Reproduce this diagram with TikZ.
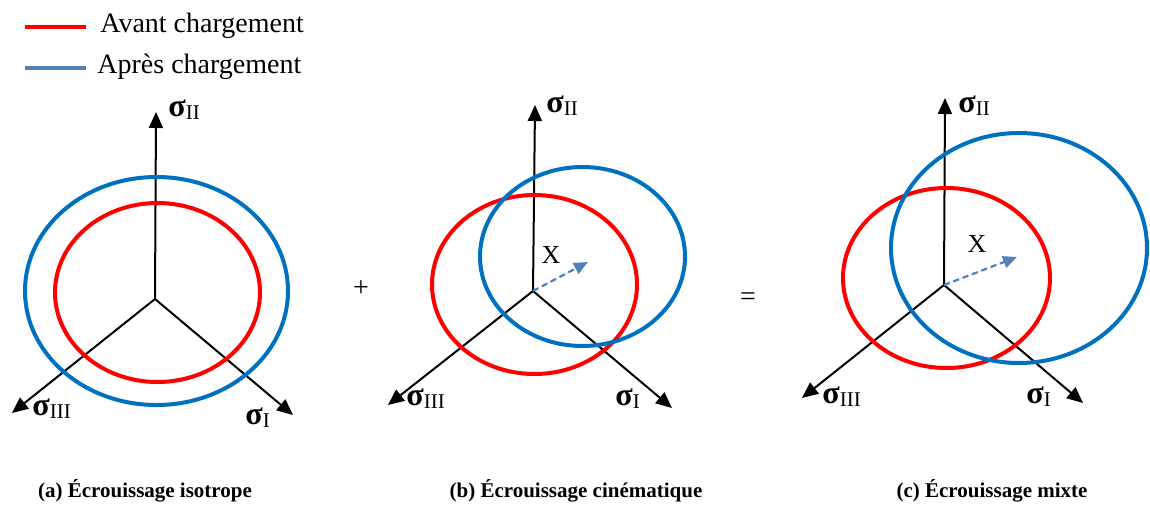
\documentclass[tikz,border=0pt]{standalone}
\usepackage{fontspec}
\setmainfont{Liberation Serif}
\usetikzlibrary{arrows.meta,positioning}
\definecolor{avant}{HTML}{FF0000}
\definecolor{apres}{HTML}{0070C0}
\definecolor{legblue}{HTML}{4F81BD}
\tikzset{
  axe/.style={line width=1pt,-{Triangle[length=8pt,width=7pt]}},
  surfav/.style={draw=avant,line width=2pt},
  surfap/.style={draw=apres,line width=2pt},
  depl/.style={draw=legblue,line width=1.1pt,dash pattern=on 3pt off 2pt,-{Triangle[length=7pt,width=6pt]},fill=legblue},
  sig/.style={anchor=base west,inner sep=0pt,font=\fontsize{16}{18}\selectfont},
  legtxt/.style={anchor=base west,inner sep=0pt,font=\fontsize{14}{16}\selectfont},
  capt/.style={anchor=base,inner sep=0pt,font=\fontsize{10.5}{12}\selectfont\bfseries},
  op/.style={inner sep=0pt,font=\fontsize{14}{16}\selectfont},
  xlab/.style={inner sep=0pt,font=\fontsize{13}{15}\selectfont},
}
\newcommand{\sigsub}[1]{{\bfseries σ}\raisebox{-0.1em}{\fontsize{10.5}{12}\selectfont #1}}

\begin{document}
\begin{tikzpicture}[x=0.5pt,y=-0.5pt]
\useasboundingbox (0,0) rectangle (1150,504);

% legend
\coordinate (lr1) at (25,27); \coordinate (lr2) at (86,27);
\coordinate (lb1) at (25,68); \coordinate (lb2) at (86,68);
\draw[avant,line width=2pt] (lr1) -- (lr2);
\draw[legblue,line width=2pt] (lb1) -- (lb2);
\node[legtxt] (lavant) at (100,32) {Avant chargement};
\node[legtxt] (lapres) at (97,73) {Après chargement};

% (a) isotrope
\coordinate (Oa) at (155,299);
\coordinate (Ia) at (293,415); \coordinate (IIa) at (156,112); \coordinate (IIIa) at (12,413);
\draw[axe] (Oa) -- (IIa);
\draw[axe] (Oa) -- (Ia);
\draw[axe] (Oa) -- (IIIa);
\draw[surfap] (156.5,291) ellipse [x radius=131.5,y radius=114];
\draw[surfav] (157.5,292.5) ellipse [x radius=102.5,y radius=89.5];
\node[sig] (sIIa) at (168,116) {\sigsub{II}};
\node[sig] (sIIIa) at (32,415) {\sigsub{III}};
\node[sig] (sIa) at (245,424) {\sigsub{I}};
\node[capt] (capa) at (145,497) {(a) Écrouissage isotrope};

\node[op] (plus) at (361,289) {+};

% (b) cinematique
\coordinate (Ob) at (533,291);
\coordinate (Ib) at (672,408); \coordinate (IIb) at (535,105); \coordinate (IIIb) at (388,405);
\draw[axe] (Ob) -- (IIb);
\draw[axe] (Ob) -- (Ib);
\draw[axe] (Ob) -- (IIIb);
\draw[surfav] (534.5,284.5) ellipse [x radius=102.5,y radius=89.5];
\draw[surfap] (582.5,256.5) ellipse [x radius=102.5,y radius=89.5];
\coordinate (Xb) at (588,262);
\draw[depl] (Ob) -- (Xb);
\node[xlab] (xlb) at (551,255) {X};
\node[sig] (sIIb) at (546,112) {\sigsub{II}};
\node[sig] (sIIIb) at (406,405) {\sigsub{III}};
\node[sig] (sIb) at (615,405) {\sigsub{I}};
\node[capt] (capb) at (576,497) {(b) Écrouissage cinématique};

\node[op] (egal) at (748,299) {=};

% (c) mixte
\coordinate (Oc) at (944,285);
\coordinate (Ic) at (1083,403); \coordinate (IIc) at (945,98); \coordinate (IIIc) at (802,398);
\draw[axe] (Oc) -- (IIc);
\draw[axe] (Oc) -- (Ic);
\draw[axe] (Oc) -- (IIIc);
\draw[surfav] (946.5,278) ellipse [x radius=103.5,y radius=90];
\draw[surfap] (1019,248) ellipse [x radius=128,y radius=115];
\coordinate (Xc) at (1017,257);
\draw[depl] (Oc) -- (Xc);
\node[xlab] (xlc) at (977,244) {X};
\node[sig] (sIIc) at (958,112) {\sigsub{II}};
\node[sig] (sIIIc) at (822,403) {\sigsub{III}};
\node[sig] (sIc) at (1026,403) {\sigsub{I}};
\node[capt] (capc) at (992,497) {(c) Écrouissage mixte};
\end{tikzpicture}
\end{document}
